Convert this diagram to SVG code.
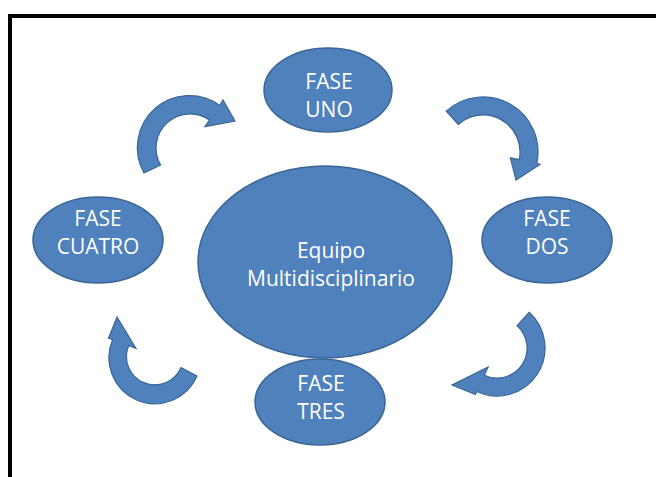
<svg xmlns="http://www.w3.org/2000/svg" width="656" height="477" viewBox="0 0 656 477">
<style>
.n{fill:#4F81BD;stroke:#3A6595;stroke-width:1.5}
.t{font-family:"Open Sans","Liberation Sans",sans-serif;font-size:21px;fill:#FFFFFF;text-anchor:middle}
.a{fill:#4F81BD;stroke:#3A6595;stroke-width:1.2;stroke-linejoin:miter}
</style>
<rect x="0" y="0" width="656" height="477" fill="#FFFFFF"/>
<path d="M8,16 H656 M10,16 V477" stroke="#000000" stroke-width="4" fill="none"/>
<g id="connectors">
<path class="a" d="M144,173 A52 52 0 0 1 219.8,105.4 L223,100 L235,121 L204.9,126.7 L209.5,120.1 A34 34 0 0 0 160.6,165 Z"/>
<path class="a" d="M446.2,111.1 A55 55 0 0 1 536.8,163.4 L540,164.5 L516,180 L510.4,157.8 L519.2,159.7 A37 37 0 0 0 458.2,124.5 Z"/>
<path class="a" d="M529.1,312.3 A48 48 0 0 1 476.7,391.5 L475.4,394.5 L452,385 L488.1,367 L484.3,375.2 A30 30 0 0 0 517.1,325.7 Z"/>
<path class="a" d="M197,376 A45 45 0 0 1 112.7,339.6 L108.5,338.2 L117,317 L136,348.5 L128.7,345.4 A28 28 0 0 0 181,367.5 Z"/>
</g>
<g id="center">
<ellipse class="n" cx="325" cy="262" rx="127" ry="96"/>
<text class="t" x="331" y="258">Equipo</text>
<text class="t" x="331" y="286">Multidisciplinario</text>
</g>
<g id="uno">
<ellipse class="n" cx="328" cy="90" rx="64" ry="42"/>
<text class="t" x="329" y="89">FASE</text>
<text class="t" x="329" y="117">UNO</text>
</g>
<g id="dos">
<ellipse class="n" cx="547" cy="240" rx="65" ry="43"/>
<text class="t" x="547" y="226">FASE</text>
<text class="t" x="547" y="254">DOS</text>
</g>
<g id="tres">
<ellipse class="n" cx="320" cy="402" rx="65" ry="43"/>
<text class="t" x="321" y="391">FASE</text>
<text class="t" x="321" y="419">TRES</text>
</g>
<g id="cuatro">
<ellipse class="n" cx="98" cy="240" rx="65" ry="43"/>
<text class="t" x="98" y="226">FASE</text>
<text class="t" x="98" y="254">CUATRO</text>
</g>
</svg>
